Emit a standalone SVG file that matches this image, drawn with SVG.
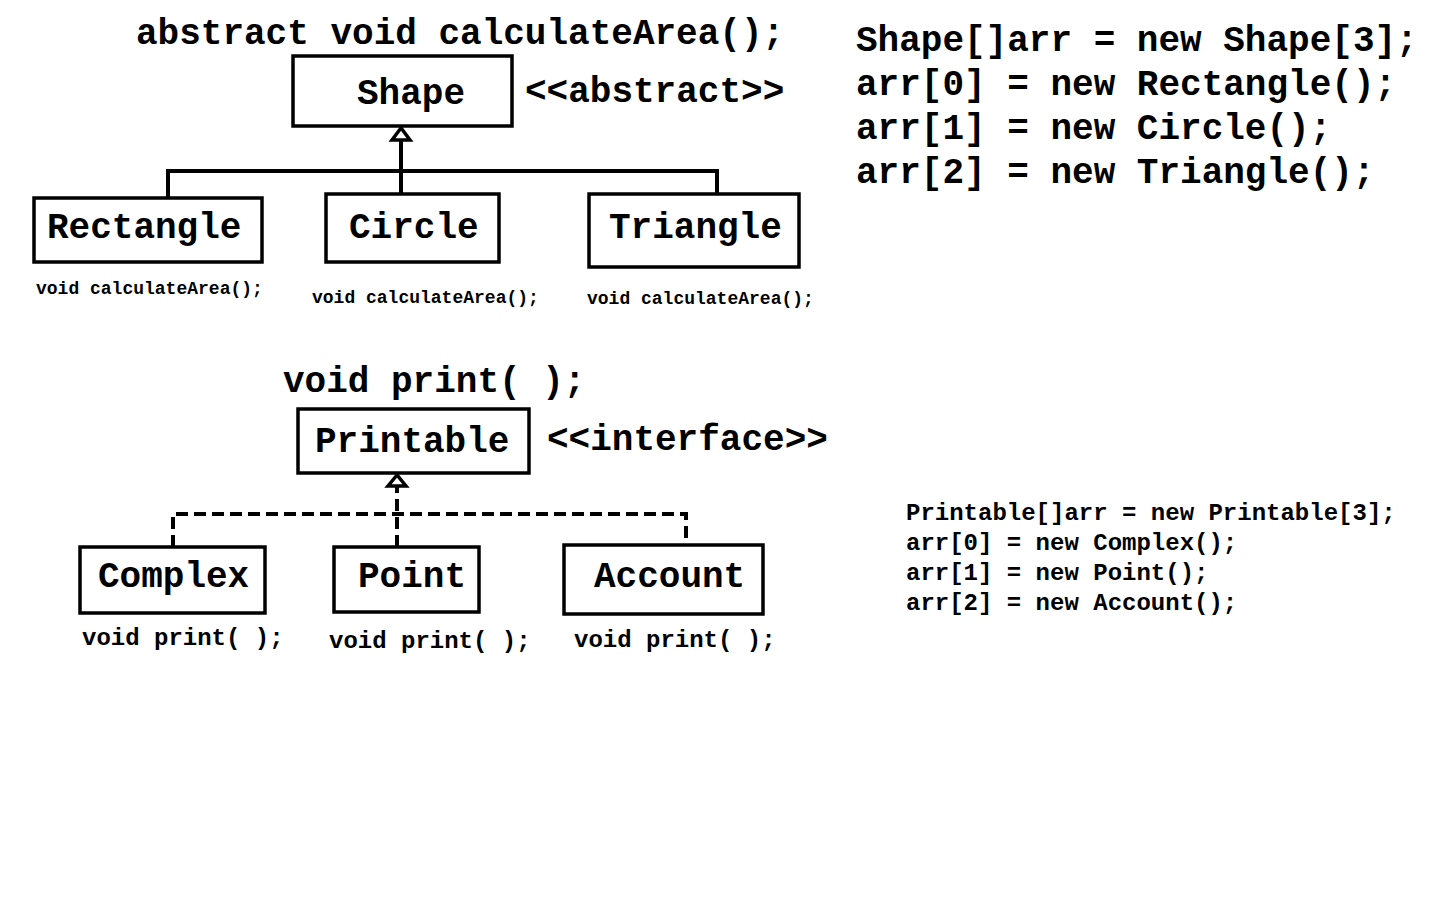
<svg xmlns="http://www.w3.org/2000/svg" width="1440" height="900" viewBox="0 0 1440 900">
<style>
text{font-family:"Liberation Mono","Courier New",monospace;font-weight:bold;fill:#000}
.big{font-size:36px}
.mid{font-size:24px}
.sm{font-size:18px}
.box{fill:#fff;stroke:#000;stroke-width:3.5}
.con{fill:none;stroke:#000;stroke-width:4}
.dash{stroke-dasharray:12 6}
.head{fill:#fff;stroke:#000;stroke-width:3.5;stroke-linejoin:miter}
</style>
<rect width="1440" height="900" fill="#fff"/>
<g id="connectors">
<path class="con" d="M168 198 V171 H717 V194"/>
<path class="con" d="M401 194 V138"/>
<polygon class="head" points="401,128 392,140 410,140"/>
<path class="con dash" d="M173 547 V514 H686 V545"/>
<path class="con dash" d="M397 547 V486"/>
<polygon class="head" points="397,475 388,486 406,486"/>
</g>
<g id="shape">
<text class="big" x="136" y="44">abstract void calculateArea();</text>
<rect class="box" x="293" y="56" width="219" height="70"/>
<text class="big" x="357" y="104">Shape</text>
<text class="big" x="525" y="102">&lt;&lt;abstract&gt;&gt;</text>
</g>
<g id="rectangle">
<rect class="box" x="34" y="198" width="228" height="64"/>
<text class="big" x="47" y="238">Rectangle</text>
<text class="sm" x="36" y="294">void calculateArea();</text>
</g>
<g id="circle">
<rect class="box" x="326" y="194" width="173" height="68"/>
<text class="big" x="349" y="238">Circle</text>
<text class="sm" x="312" y="303">void calculateArea();</text>
</g>
<g id="triangle">
<rect class="box" x="589" y="194" width="210" height="73"/>
<text class="big" x="609" y="238">Triangle</text>
<text class="sm" x="587" y="304">void calculateArea();</text>
</g>
<g id="shape-code">
<text class="big" x="856" y="51">Shape[]arr = new Shape[3];</text>
<text class="big" x="856" y="95">arr[0] = new Rectangle();</text>
<text class="big" x="856" y="139">arr[1] = new Circle();</text>
<text class="big" x="856" y="183">arr[2] = new Triangle();</text>
</g>
<g id="printable">
<text class="big" x="283" y="392">void print( );</text>
<rect class="box" x="298" y="409" width="231" height="64"/>
<text class="big" x="315" y="452">Printable</text>
<text class="big" x="547" y="450">&lt;&lt;interface&gt;&gt;</text>
</g>
<g id="complex">
<rect class="box" x="80" y="547" width="185" height="66"/>
<text class="big" x="98" y="587">Complex</text>
<text class="mid" x="82" y="645">void print( );</text>
</g>
<g id="point">
<rect class="box" x="334" y="547" width="145" height="65"/>
<text class="big" x="358" y="587">Point</text>
<text class="mid" x="329" y="648">void print( );</text>
</g>
<g id="account">
<rect class="box" x="564" y="545" width="199" height="69"/>
<text class="big" x="594" y="587">Account</text>
<text class="mid" x="574" y="647">void print( );</text>
</g>
<g id="printable-code">
<text class="mid" x="906" y="520">Printable[]arr = new Printable[3];</text>
<text class="mid" x="906" y="550">arr[0] = new Complex();</text>
<text class="mid" x="906" y="580">arr[1] = new Point();</text>
<text class="mid" x="906" y="610">arr[2] = new Account();</text>
</g>
</svg>
